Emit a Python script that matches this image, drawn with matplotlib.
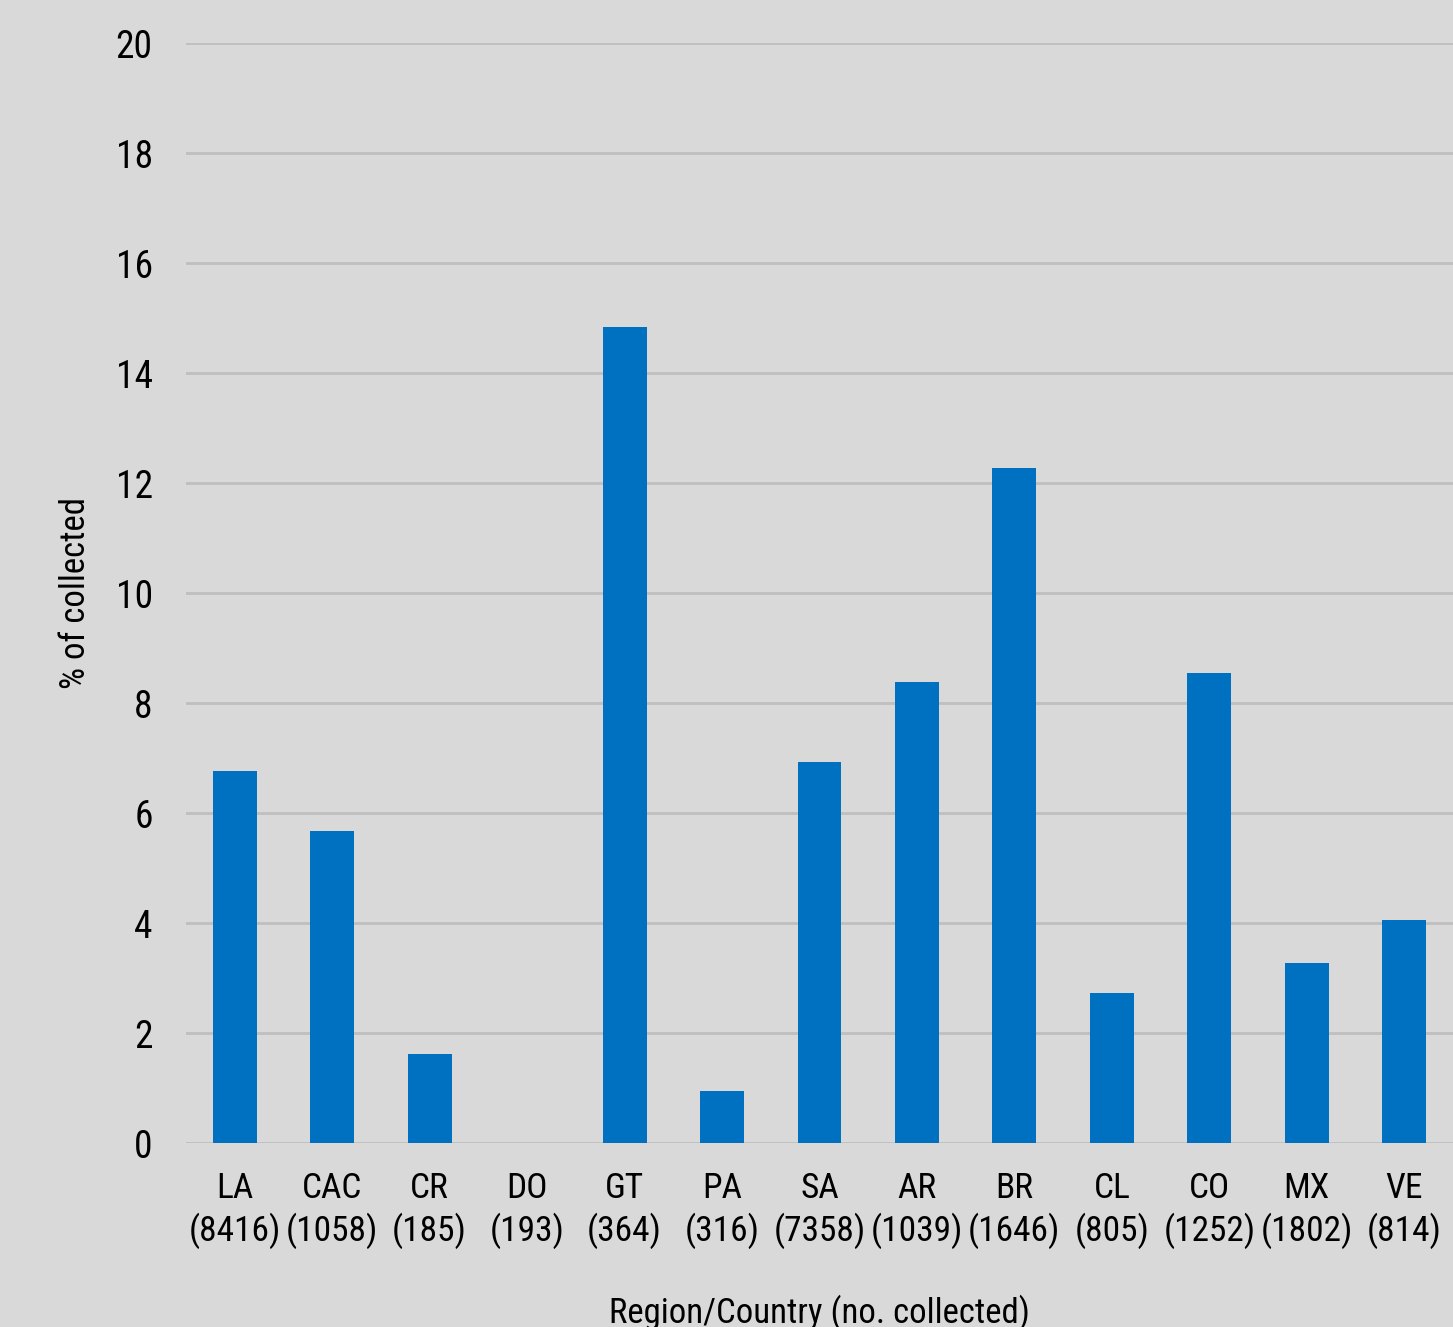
import matplotlib
matplotlib.use("Agg")
import matplotlib.pyplot as plt
import numpy as np

# ---------------- DATA ----------------
codes = ["LA", "CAC", "CR", "DO", "GT", "PA", "SA", "AR", "BR", "CL", "CO", "MX", "VE"]
n_collected = [8416, 1058, 185, 193, 364, 316, 7358, 1039, 1646, 805, 1252, 1802, 814]
pct = [6.76, 5.67, 1.62, 0.0, 14.84, 0.95, 6.93, 8.38, 12.27, 2.73, 8.55, 3.27, 4.05]
yticks = [0, 2, 4, 6, 8, 10, 12, 14, 16, 18, 20]

plt.rcParams['font.family'] = ['Roboto Condensed', 'Archivo Narrow', 'DejaVu Sans']

bg = "#d9d9d9"
fig = plt.figure(figsize=(14.53, 13.27), dpi=100, facecolor=bg)
ax = fig.add_axes([186 / 1453, 1 - 1143 / 1327, (1453 - 186) / 1453, 1100 / 1327])
ax.set_facecolor(bg)

x = np.arange(len(codes))
ax.bar(x, pct, width=0.45, color="#0070c0", zorder=3)

ax.set_xlim(-0.5, len(codes) - 0.5)
ax.set_ylim(0, 20)
ax.set_yticks(yticks)
ax.yaxis.grid(True, color="#bfbfbf", linewidth=2, zorder=0)
ax.set_axisbelow(True)

labels = [f"{c}\n({n})" for c, n in zip(codes, n_collected)]
ax.set_xticks(x)
ax.set_xticklabels(labels, fontsize=25.5, linespacing=1.25)
ax.tick_params(axis="x", length=0, pad=21)
ax.tick_params(axis="y", length=0, pad=24, labelsize=27)

for s in ax.spines.values():
    s.set_visible(False)

ax.set_ylabel("% of collected", fontsize=25)
ax.yaxis.set_label_coords(-0.074, 0.5)
ax.set_xlabel("Region/Country (no. collected)", fontsize=25, labelpad=33)

fig.savefig("out.png", dpi=100, facecolor=bg)
